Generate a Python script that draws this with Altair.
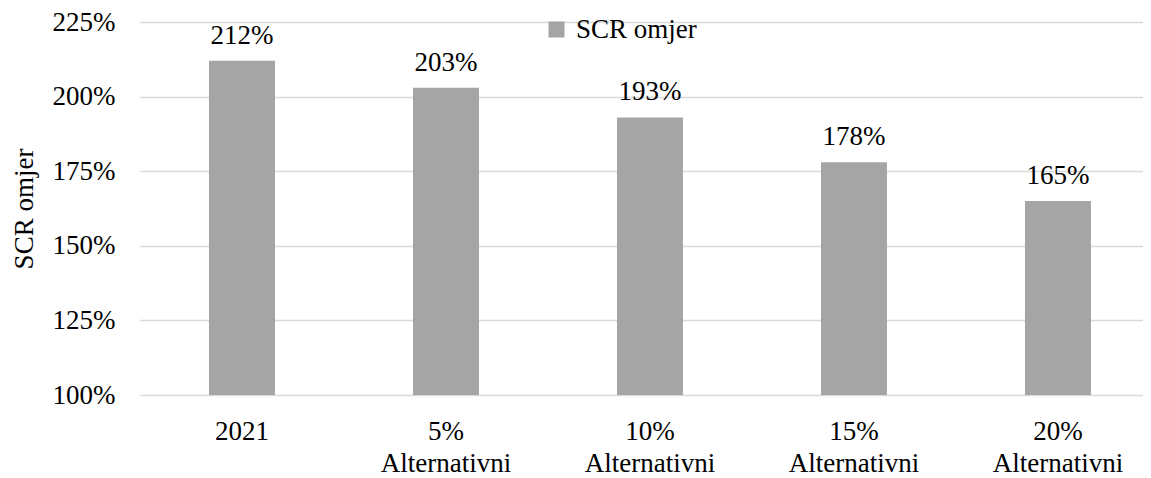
import altair as alt
import pandas as pd

categories = ["2021", "5%|Alternativni", "10%|Alternativni", "15%|Alternativni", "20%|Alternativni"]
values = [2.12, 2.03, 1.93, 1.78, 1.65]
series = ["SCR omjer"] * 5
y_ticks = [1.00, 1.25, 1.50, 1.75, 2.00, 2.25]

df = pd.DataFrame({"cat": categories, "val": values, "series": series})

FONT = "Liberation Serif"
FS = 27

x = alt.X("cat:N", sort=categories, title=None,
          scale=alt.Scale(paddingInner=0.6765, paddingOuter=0.2966, align=0.57),
          axis=alt.Axis(labelExpr="split(datum.label, '|')", labelAngle=0,
                        labelFont=FONT, labelFontSize=FS, labelColor="#000000",
                        labelLineHeight=32, labelPadding=23, domain=False, ticks=False))
y = alt.Y("val:Q", title="SCR omjer",
          scale=alt.Scale(domain=[1.0, 2.25], nice=False, zero=False),
          axis=alt.Axis(values=y_ticks, format=".0%", labelFont=FONT, labelFontSize=FS,
                        labelColor="#000000", labelPadding=25, domain=False, ticks=False,
                        gridColor="#D9D9D9", gridWidth=1.5,
                        titleFont=FONT, titleFontSize=FS, titleFontWeight="normal",
                        titleColor="#000000", titlePadding=14))

bars = alt.Chart(df).mark_bar(color="#A5A5A5", clip=True).encode(
    x=x, y=y, y2=alt.datum(1.0),
    color=alt.Color("series:N", scale=alt.Scale(range=["#A5A5A5"]),
                    legend=alt.Legend(title=None, orient="none", legendX=403, legendY=-6,
                                      symbolType="square", symbolSize=256,
                                      symbolStrokeWidth=0, labelFont=FONT,
                                      labelFontSize=FS, labelColor="#000000",
                                      labelOffset=6, padding=0)),
)

text = alt.Chart(df).mark_text(font=FONT, fontSize=FS, color="#000000",
                               baseline="alphabetic", dy=-17).encode(
    x=alt.X("cat:N", sort=categories),
    y=alt.Y("val:Q"),
    text=alt.Text("val:Q", format=".0%"),
)

chart = alt.layer(bars, text).properties(
    width=1003, height=373,
    autosize=alt.AutoSizeParams(type="none"),
    padding={"left": 132, "top": 14, "right": 0, "bottom": 88},
).configure_view(stroke=None)

chart.save("out.html", embed_options={"renderer": "svg", "actions": False})
